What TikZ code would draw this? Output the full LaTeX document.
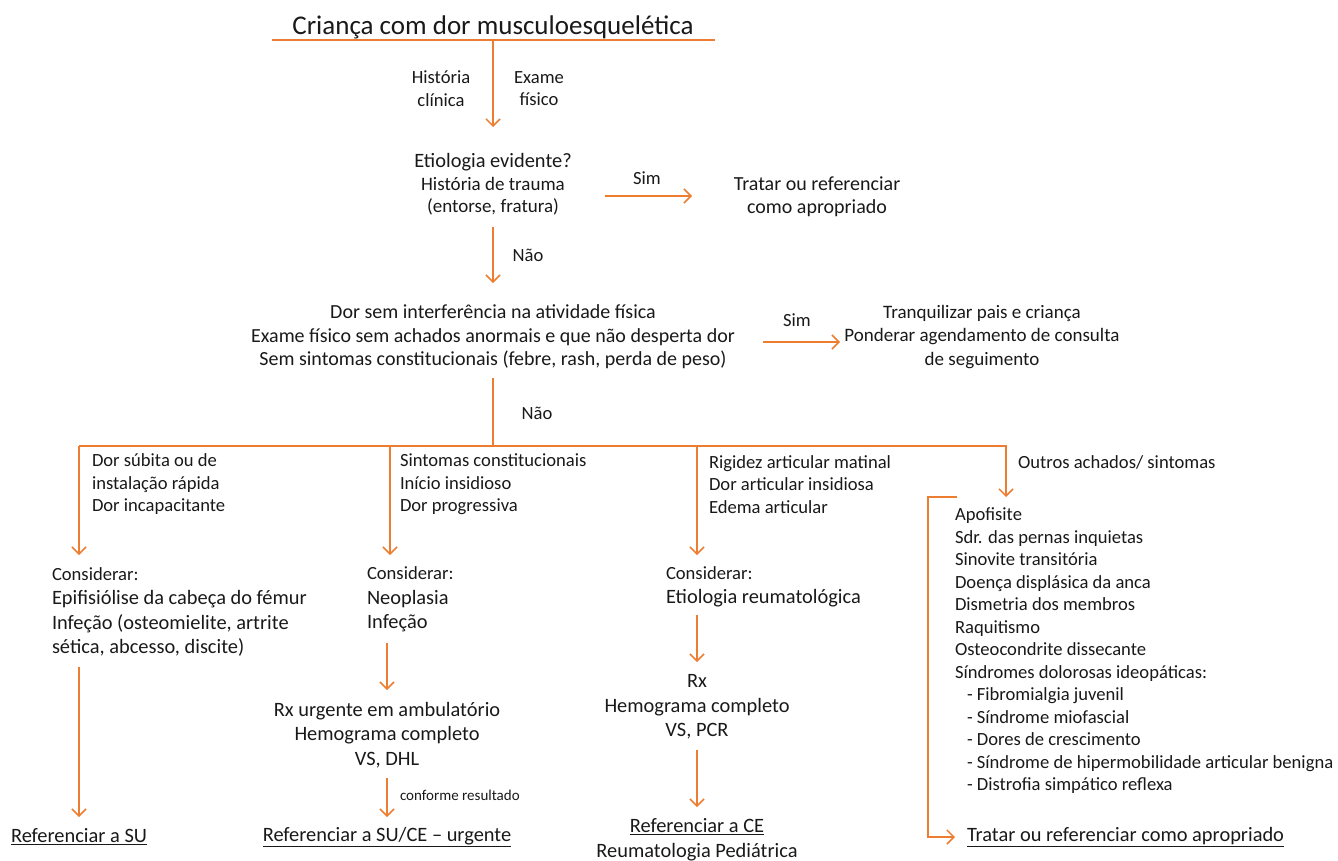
\documentclass[tikz,border=0pt]{standalone}
\usepackage{fontspec}
\setmainfont{Carlito}
\usetikzlibrary{arrows.meta}
\definecolor{org}{RGB}{237,125,49}
\definecolor{txt}{RGB}{25,25,25}
\newcommand{\fsz}[2]{\fontsize{#1}{#2}\selectfont}
\begin{document}
\begin{tikzpicture}[x=1pt,y=-1pt,
  conn/.style={draw=org, line width=1.5pt},
  arr/.style={conn, -{Straight Barb[length=7pt,width=14pt]}},
  every node/.style={inner sep=0pt, outer sep=0pt, text=txt},
  big/.style={font=\fsz{20.4}{24.5}},
  small/.style={font=\fsz{18.6}{22.5}},
  tiny/.style={font=\fsz{15}{18}},
]
\useasboundingbox (0,0) rectangle (1338,860);
% title
\node[font=\fsz{27}{32}] (title) at (493,27) {Criança com dor musculoesquelética};
\coordinate (ul) at (272,40); \coordinate (ur) at (715,40);
\coordinate (t0) at (493,40); \coordinate (t1) at (493,127);
\draw[conn] (ul) -- (ur);
\draw[arr] (t0) -- (t1);
\node[small, align=center] (hist) at (441,88.5) {História\\clínica};
\node[small, align=center] (exame) at (539,88.5) {Exame\\físico};
% etiologia
\node[align=center, font=\fsz{19}{22.5}] (etio) at (493,184.5) {{\fsz{20.4}{22.5}Etiologia evidente?}\\História de trauma\\(entorse, fratura)};
\coordinate (s1a) at (605,196); \coordinate (s1b) at (692,196);
\draw[arr] (s1a) -- (s1b);
\node[small] (sim1) at (647,178) {Sim};
\node[align=center, font=\fsz{20}{23}] (trat1) at (817,196.5) {Tratar ou referenciar\\como apropriado};
\coordinate (n1a) at (493,227); \coordinate (n1b) at (493,283);
\draw[arr] (n1a) -- (n1b);
\node[small] (nao1) at (528,255) {Não};
% dor sem interferencia
\node[align=center, font=\fsz{20}{23.5}] (dor) at (493,337) {Dor sem interferência na atividade física\\Exame físico sem achados anormais e que não desperta dor\\Sem sintomas constitucionais (febre, rash, perda de peso)};
\coordinate (s2a) at (763,342); \coordinate (s2b) at (840,342);
\draw[arr] (s2a) -- (s2b);
\node[small] (sim2) at (797,320) {Sim};
\node[align=center, font=\fsz{19}{23.5}] (tranq) at (982,337) {Tranquilizar pais e criança\\Ponderar agendamento de consulta\\de seguimento};
% branches
\coordinate (d0) at (493,378); \coordinate (d1) at (493,446);
\coordinate (h0) at (79,446); \coordinate (h1) at (390,446); \coordinate (h2) at (697,446); \coordinate (h3) at (1006,446);
\coordinate (e0) at (79,555); \coordinate (e1) at (390,555); \coordinate (e2) at (697,555); \coordinate (e3) at (1006,497);
\draw[conn] (d0) -- (d1);
\node[small] (nao2) at (537,413) {Não};
\draw[arr] (h0) -- (h3) -- (e3);
\draw[arr] (h0) -- (e0);
\draw[arr] (h1) -- (e1);
\draw[arr] (h2) -- (e2);
\node[small, align=left, anchor=west] (b1) at (92,484.5) {Dor súbita ou de\\instalação rápida\\Dor incapacitante};
\node[small, align=left, anchor=west] (b2) at (400,484.5) {Sintomas constitucionais\\Início insidioso\\Dor progressiva};
\node[small, align=left, anchor=west] (b3) at (709,484.5) {Rigidez articular matinal\\Dor articular insidiosa\\Edema articular};
\node[small, anchor=west] (b4) at (1018,462) {Outros achados/ sintomas};
% column 1
\node[big, align=left, anchor=west] (c1) at (52,612) {{\fsz{18.6}{24.5}Considerar:}\\Epifisiólise da cabeça do fémur\\Infeção (osteomielite, artrite\\sética, abcesso, discite)};
\coordinate (c1a) at (79,667); \coordinate (c1b) at (79,817);
\draw[arr] (c1a) -- (c1b);
\node[big] (ref1) at (79,837) {\underline{Referenciar a SU}};
% column 2
\node[big, align=left, anchor=west] (c2) at (367,599.5) {{\fsz{18.6}{24.5}Considerar:}\\Neoplasia\\Infeção};
\coordinate (c2a) at (387,643); \coordinate (c2b) at (387,690);
\draw[arr] (c2a) -- (c2b);
\node[big, align=center] (rx2) at (387,735) {Rx urgente em ambulatório\\Hemograma completo\\VS, DHL};
\coordinate (r2a) at (387,778); \coordinate (r2b) at (387,817);
\draw[arr] (r2a) -- (r2b);
\node[tiny, anchor=west] (conf) at (400,795) {conforme resultado};
\node[big] (ref2) at (387,837) {\underline{Referenciar a SU/CE – urgente}};
% column 3
\node[big, align=left, anchor=west] (c3) at (666,587) {{\fsz{18.6}{24.5}Considerar:}\\Etiologia reumatológica};
\coordinate (c3a) at (697,615); \coordinate (c3b) at (697,662);
\draw[arr] (c3a) -- (c3b);
\node[big, align=center] (rx3) at (697,707) {Rx\\Hemograma completo\\VS, PCR};
\coordinate (r3a) at (697,750); \coordinate (r3b) at (697,807);
\draw[arr] (r3a) -- (r3b);
\node[big, align=center] (ref3) at (697,839.5) {\underline{Referenciar a CE}\\Reumatologia Pediátrica};
% column 4
\node[small, align=left, anchor=west] (lst) at (955,651) {Apofisite\\Sdr. das pernas inquietas\\Sinovite transitória\\Doença displásica da anca\\Dismetria dos membros\\Raquitismo\\Osteocondrite dissecante\\Síndromes dolorosas ideopáticas:\\\hspace*{12pt}- Fibromialgia juvenil\\\hspace*{12pt}- Síndrome miofascial\\\hspace*{12pt}- Dores de crescimento\\\hspace*{12pt}- Síndrome de hipermobilidade articular benigna\\\hspace*{12pt}- Distrofia simpático reflexa};
\coordinate (k0) at (957,497); \coordinate (k1) at (928,497); \coordinate (k2) at (928,837); \coordinate (k3) at (955,837);
\draw[arr] (k0) -- (k1) -- (k2) -- (k3);
\node[big, anchor=west] (trat2) at (967,837) {\underline{Tratar ou referenciar como apropriado}};
\end{tikzpicture}
\end{document}
